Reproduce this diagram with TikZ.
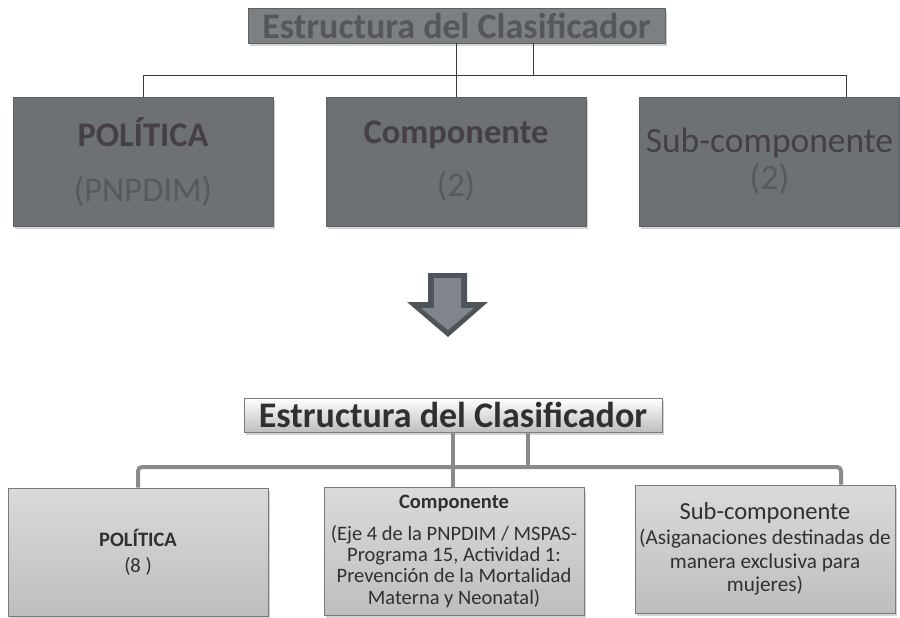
\documentclass[tikz,border=0pt]{standalone}
\usepackage{fontspec}
\setmainfont{Carlito}
\usetikzlibrary{shadows}
\definecolor{topfill}{HTML}{6D7175}
\definecolor{topedge}{HTML}{5E6266}
\definecolor{titlefill}{HTML}{7C8083}
\definecolor{titletext}{HTML}{55575A}
\definecolor{headtext}{HTML}{463F43}
\definecolor{subtext}{HTML}{555A5E}
\definecolor{thinline}{HTML}{3A3A3A}
\definecolor{arrowdark}{HTML}{4E545A}
\definecolor{arrowlight}{HTML}{7F858A}
\definecolor{lowtop}{HTML}{DADADA}
\definecolor{lowbot}{HTML}{BEBEBE}
\definecolor{lowedge}{HTML}{7A7A7A}
\definecolor{lowtext}{HTML}{303030}
\definecolor{thickline}{HTML}{8A8A8A}
\tikzset{
  shd/.style={drop shadow={opacity=0.35,shadow xshift=1.5pt,shadow yshift=-3pt}},
  toptitle/.style={shd,fill=titlefill,draw=topedge,line width=0.8pt,inner sep=0pt,
    minimum width=417pt,minimum height=35pt,text=titletext,
    font=\fontsize{36}{40}\selectfont\bfseries},
  topbox/.style={shd,fill=topfill,draw=topedge,line width=0.8pt,inner sep=2pt,
    minimum width=260pt,minimum height=129pt,align=center},
  lowtitle/.style={shd,top color=white,bottom color=lowbot,draw=lowedge,line width=0.8pt,
    inner sep=0pt,minimum width=418pt,minimum height=34pt,text=lowtext,
    font=\fontsize{36}{40}\selectfont\bfseries},
  lowbox/.style={shd,top color=lowtop,bottom color=lowbot,draw=lowedge,line width=0.8pt,
    inner sep=0pt,minimum width=260pt,minimum height=128pt,align=center,text=lowtext},
  thinconn/.style={draw=thinline,line width=1pt},
  thickconn/.style={draw=thickline,line width=4pt,rounded corners=4pt}
}
\begin{document}
\begin{tikzpicture}[x=1pt,y=-1pt]
\useasboundingbox (0,0) rectangle (900,618);

% ---------- top part ----------
\node[toptitle] (t1) at (456.5,25.5) {Estructura del Clasificador};

\node[topbox,font=\fontsize{34.5}{55}\selectfont] (a1) at (143,161.5)
  {\color{headtext}\bfseries POLÍTICA\\ \color{subtext}(PNPDIM)};
\node[topbox,font=\fontsize{34.5}{53}\selectfont] (a2) at (456,161.5)
  {\color{headtext}\bfseries Componente\\ \color{subtext}(2)};
\node[topbox,font=\fontsize{35.5}{37}\selectfont] (a3) at (769.5,161.5)
  {\color{headtext}Sub-componente\\ \color{subtext}(2)};

\coordinate (j1) at (533,76);
\coordinate (busR) at (846,76);
\draw[thinconn] (t1.south) -- (t1.south |- a2.north);
\draw[thinconn] (j1 |- t1.south) -- (j1);
\draw[thinconn] (a1.north) |- (busR) -- (busR |- a3.north);

% ---------- arrow ----------
\fill[arrowdark] (428,273) -- (467,273) -- (467,302) -- (488,302) -- (448,337)
  -- (407,302) -- (428,302) -- cycle;
\fill[arrowlight] (434,278) -- (461,278) -- (461,308) -- (474,308) -- (448,330)
  -- (421,308) -- (434,308) -- cycle;

% ---------- bottom part ----------
\node[lowtitle] (t2) at (453,415) {Estructura del Clasificador};

\node[lowbox,font=\fontsize{20.5}{22}\selectfont] (b1) at (138,552)
  {\bfseries POLÍTICA\\[4pt] (8 )};
\node[lowbox,font=\fontsize{20.5}{21.3}\selectfont] (b2) at (454,551.5)
  {\bfseries Componente\\[10pt] (Eje 4 de la PNPDIM / MSPAS-\\ Programa 15, Actividad 1:\\
   Prevención de la Mortalidad\\ Materna y Neonatal)};
\node[lowbox,font=\fontsize{21.2}{23.5}\selectfont] (b3) at (765,549)
  {{\fontsize{24.5}{26}\selectfont Sub-componente}\\[2pt] (Asiganaciones destinadas de\\ manera exclusiva para\\ mujeres)};

\coordinate (j2) at (528,467);
\coordinate (busR2) at (841,467);
\draw[thickconn] (t2.south) -- (t2.south |- b2.north);
\draw[thickconn] (j2 |- t2.south) -- (j2);
\draw[thickconn] (b1.north) |- (busR2) -- (busR2 |- b3.north);
\end{tikzpicture}
\end{document}
